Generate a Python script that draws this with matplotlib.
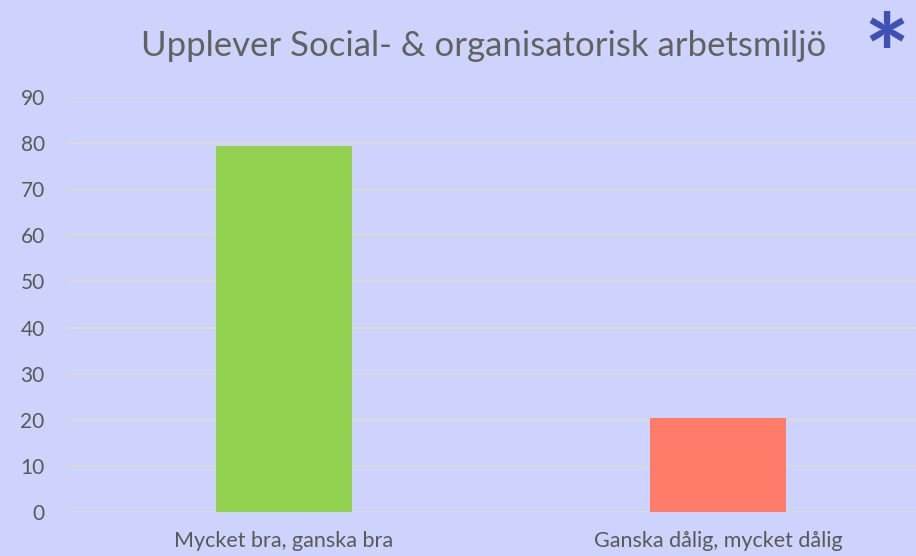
import matplotlib
matplotlib.use("Agg")
import matplotlib.pyplot as plt

categories = ["Mycket bra, ganska bra", "Ganska dålig, mycket dålig"]
values = [79.4, 20.4]
bar_colors = ["#92D050", "#FF7B6A"]
yticks = [0, 10, 20, 30, 40, 50, 60, 70, 80, 90]
title = "Upplever Social- & organisatorisk arbetsmiljö"

bg = "#CED3FE"
txt = "#595959"
plt.rcParams['font.family'] = ['Lato', 'DejaVu Sans']

fig = plt.figure(figsize=(9.16, 5.56), dpi=100, facecolor=bg)
ax = fig.add_axes([0.0731, 0.0791, 0.9476, 0.7464], facecolor=bg)

x = list(range(len(categories)))
ax.bar(x, values, width=0.314, color=bar_colors, zorder=3)
ax.set_xlim(-0.5, 1.5)
ax.set_ylim(0, 90)
ax.set_yticks(yticks)
ax.set_xticks(x)
ax.set_xticklabels(categories, fontsize=15.5)
ax.grid(axis='y', color="#D9D9D9", linewidth=1.5, zorder=0)
for s in ax.spines.values():
    s.set_visible(False)
ax.tick_params(axis='both', length=0, colors=txt)
ax.tick_params(axis='y', pad=16, labelsize=15)
ax.tick_params(axis='x', pad=14)

fig.text(0.528, 0.918, title, ha='center', va='center', fontsize=25,
         color="#626262", fontweight='normal')
fig.text(0.968, 0.888, "*", ha='center', va='center', fontsize=78,
         color="#3F51B5", fontweight='bold')

fig.savefig("out.png", dpi=100, facecolor=bg)
